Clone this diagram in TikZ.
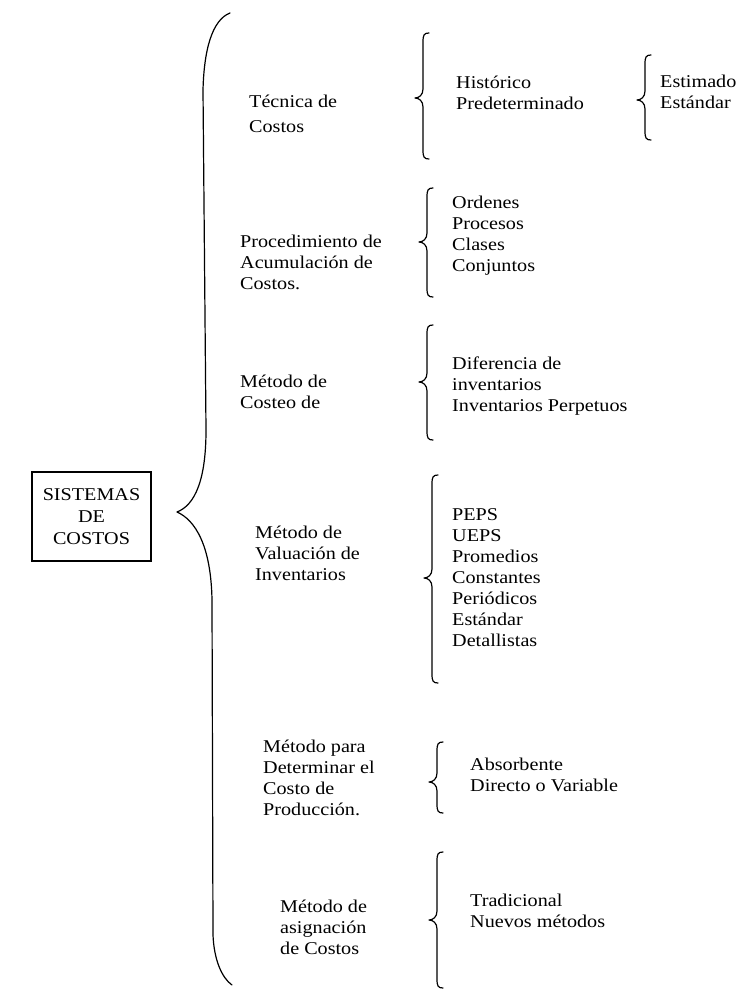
\documentclass[tikz,border=0pt]{standalone}
\usepackage{fontspec}
\setmainfont{Liberation Serif}[FakeStretch=1.12]
\newcommand\cbrace[4]{%
  \draw[bracestyle] ({#1+6},#2) .. controls ({#1+1},#2) and (#1,{#2+2}) .. (#1,{#2+9})
    -- (#1,{#3-9}) .. controls (#1,{#3-3}) and ({#1-4},#3) .. ({#1-8},#3)
    .. controls ({#1-4},#3) and (#1,{#3+3}) .. (#1,{#3+9})
    -- (#1,{#4-9}) .. controls (#1,{#4-2}) and ({#1+1},#4) .. ({#1+6},#4);}
\begin{document}
\begin{tikzpicture}[x=1pt,y=-1pt,
  txt/.style={font=\fontsize{18}{21}\selectfont, align=left, anchor=west, inner sep=0pt},
  bracestyle/.style={line width=1.2pt, line cap=round, line join=round},
  boxstyle/.style={draw, line width=1.1pt, font=\fontsize{18}{22}\selectfont, align=center,
    minimum width=119pt, minimum height=89pt, inner sep=0pt}]
\useasboundingbox (0,0) rectangle (748,992);
% main box
\node[boxstyle] (sis) at (91.5,516.5) {SISTEMAS\\DE\\COSTOS};
% big brace
\draw[bracestyle] (230,13) .. controls (212,20) and (204,50) .. (203,90)
  -- (206,430) .. controls (206,480) and (195,505) .. (177,512)
  .. controls (195,520) and (211,545) .. (212,600)
  -- (213,935) .. controls (214,960) and (222,978) .. (232,985);
% categories
\node[txt, font=\fontsize{18}{25}\selectfont] (tec) at (249,114) {Técnica de\\Costos};
\node[txt] (proc) at (240,262) {Procedimiento de\\Acumulación de\\Costos.};
\node[txt] (cost) at (240,392) {Método de\\Costeo de};
\node[txt] (val) at (255,553) {Método de\\Valuación de\\Inventarios};
\node[txt] (det) at (263,778) {Método para\\Determinar el\\Costo de\\Producción.};
\node[txt] (asig) at (280,927) {Método de\\asignación\\de Costos};
% sub braces
\cbrace{423}{33}{98}{159}
\cbrace{645}{55}{100}{140}
\cbrace{427}{188}{242}{297}
\cbrace{427}{325}{382}{440}
\cbrace{432}{475}{578}{683}
\cbrace{437}{742}{782}{813}
\cbrace{437}{852}{920}{988}
% items
\node[txt] (hist) at (456,93) {Histórico\\Predeterminado};
\node[txt] (est) at (660,92) {Estimado\\Estándar};
\node[txt] (ord) at (452,236) {Ordenes\\Procesos\\Clases\\Conjuntos};
\node[txt] (dif) at (452,386) {Diferencia de\\inventarios\\Inventarios Perpetuos};
\node[txt] (peps) at (452,578) {PEPS\\UEPS\\Promedios\\Constantes\\Periódicos\\Estándar\\Detallistas};
\node[txt] (abs) at (470,775) {Absorbente\\Directo o Variable};
\node[txt] (trad) at (470,911) {Tradicional\\Nuevos métodos};
\end{tikzpicture}
\end{document}
